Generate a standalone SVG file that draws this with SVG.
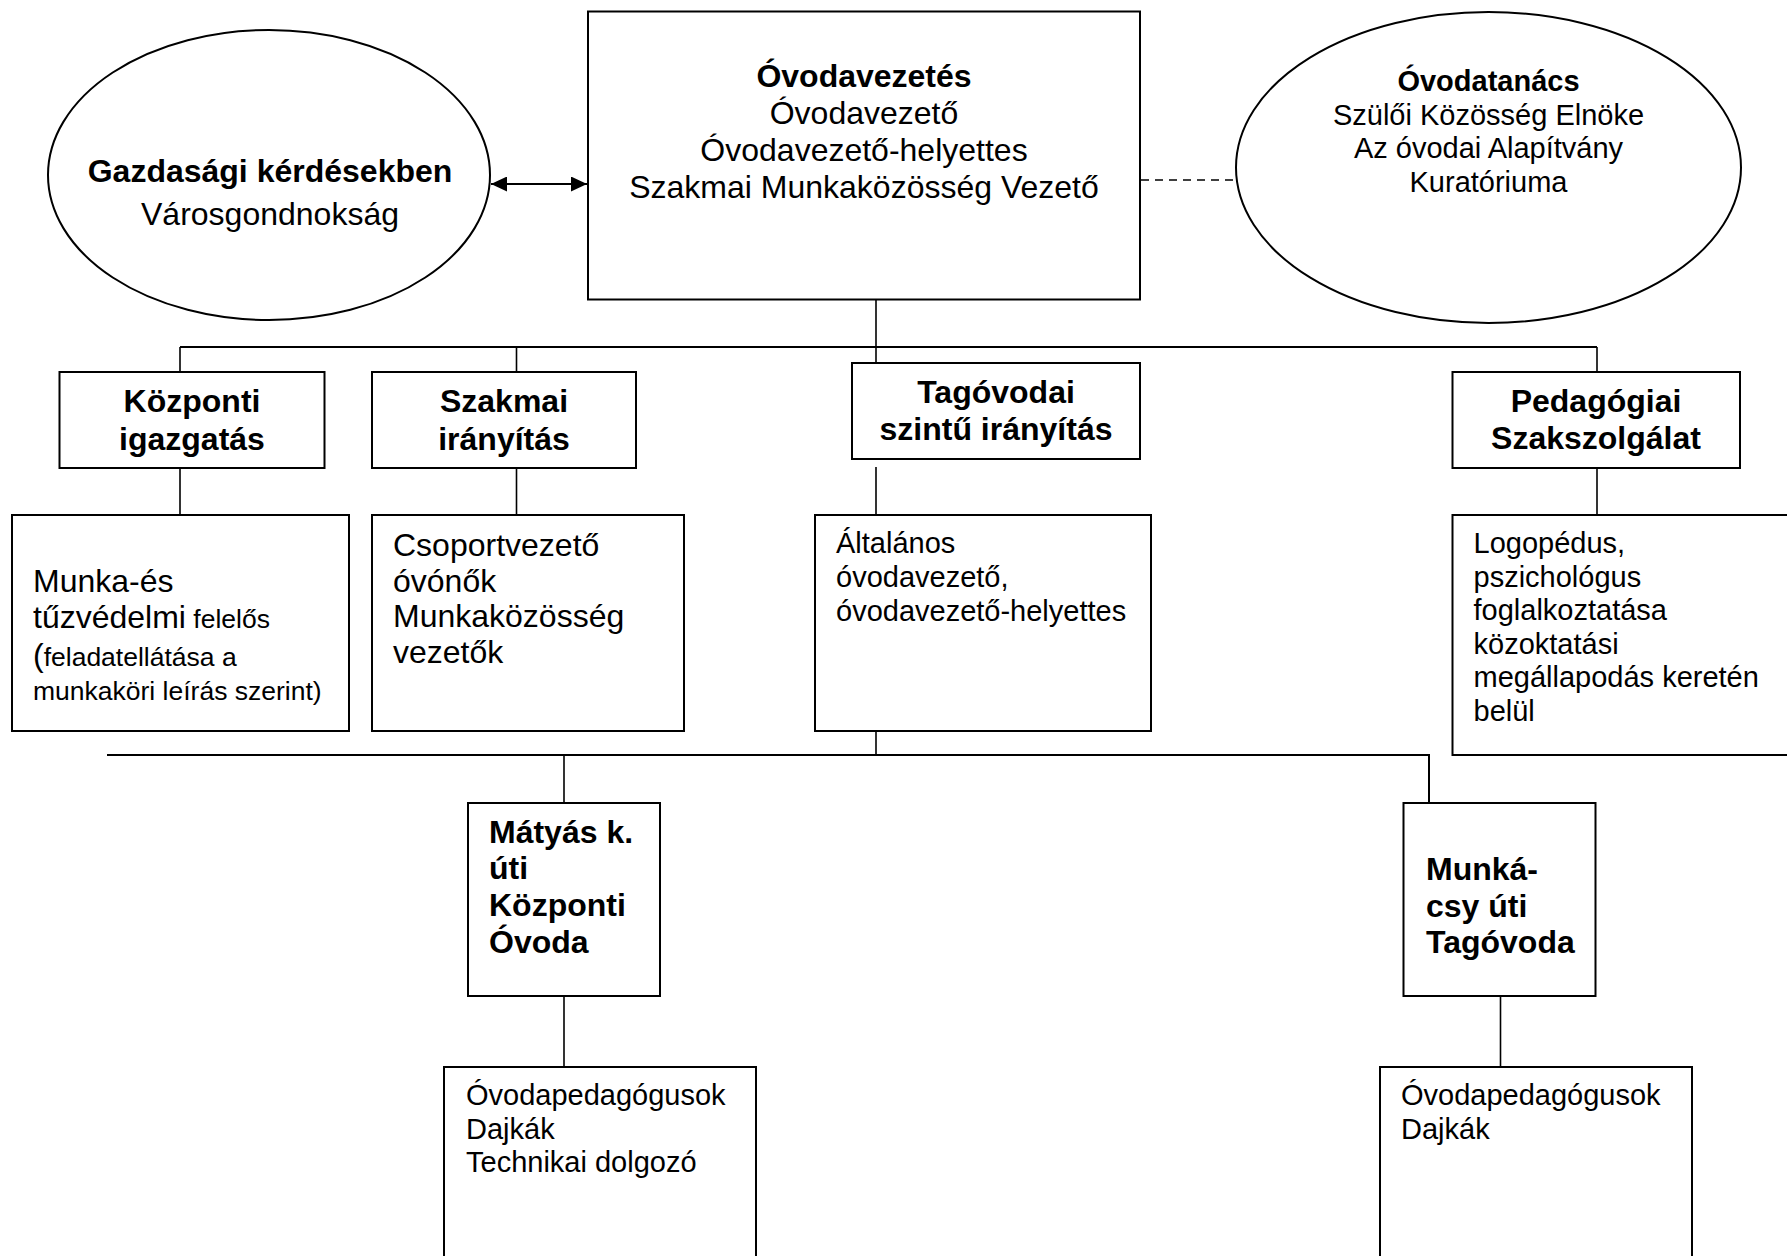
<svg xmlns="http://www.w3.org/2000/svg" width="1787" height="1256" viewBox="0 0 1787 1256">
<defs>
<style>
.box{fill:#fff;stroke:#000;stroke-width:2}
.ell{fill:#fff;stroke:#000;stroke-width:2}
.ln{fill:none;stroke:#000;stroke-width:1.6}
.bus{fill:none;stroke:#000;stroke-width:2}
text{font-family:"Liberation Sans",Arial,sans-serif;fill:#000}
.b{font-weight:bold;font-size:32px}
.r{font-size:32px}
.s{font-size:29px}
.xs{font-size:26.5px}
.c{text-anchor:middle}
</style>
<marker id="ah" viewBox="0 0 16 15" refX="16" refY="7.5" markerWidth="16" markerHeight="15" markerUnits="userSpaceOnUse" orient="auto-start-reverse">
<path d="M0,0 L16,7.5 L0,15 z" fill="#000"/>
</marker>
</defs>
<rect width="1787" height="1256" fill="#fff"/>

<g id="connectors">
<line x1="491" y1="184" x2="587" y2="184" stroke="#000" stroke-width="2" marker-start="url(#ah)" marker-end="url(#ah)"/>
<line x1="1141" y1="180" x2="1236" y2="180" class="ln" stroke-dasharray="8,6"/>
<line x1="876" y1="299" x2="876" y2="372" class="ln"/>
<line x1="180" y1="347" x2="1597" y2="347" class="bus"/>
<line x1="180" y1="347" x2="180" y2="372" class="ln"/>
<line x1="516.5" y1="347" x2="516.5" y2="372" class="ln"/>
<line x1="1597" y1="347" x2="1597" y2="372" class="ln"/>
<line x1="180" y1="468" x2="180" y2="515" class="ln"/>
<line x1="516.5" y1="468" x2="516.5" y2="515" class="ln"/>
<line x1="876" y1="467" x2="876" y2="515" class="ln"/>
<line x1="1597" y1="468" x2="1597" y2="515" class="ln"/>
<line x1="876" y1="731" x2="876" y2="755" class="ln"/>
<polyline points="107,755 1429,755 1429,803" class="bus"/>
<line x1="564" y1="755" x2="564" y2="803" class="ln"/>
<line x1="564" y1="996" x2="564" y2="1067" class="ln"/>
<line x1="1500.5" y1="996" x2="1500.5" y2="1067" class="ln"/>
</g>

<g id="gazdasagi">
<ellipse cx="269" cy="175" rx="221" ry="145" class="ell"/>
<text class="c" x="270"><tspan class="b" x="270" y="182">Gazdasági kérdésekben</tspan><tspan class="r" x="270" y="225">Városgondnokság</tspan></text>
</g>

<g id="ovodavezetes">
<rect x="588" y="11.5" width="552" height="288" class="box"/>
<text class="c"><tspan class="b" x="864" y="87">Óvodavezetés</tspan><tspan class="r" x="864" y="124">Óvodavezető</tspan><tspan class="r" x="864" y="161">Óvodavezető-helyettes</tspan><tspan class="r" x="864" y="198">Szakmai Munkaközösség Vezető</tspan></text>
</g>

<g id="ovodatanacs">
<ellipse cx="1488.5" cy="167.5" rx="252.5" ry="155.5" class="ell"/>
<text class="c"><tspan class="s" font-weight="bold" x="1488.5" y="91">Óvodatanács</tspan><tspan class="s" x="1488.5" y="124.5">Szülői Közösség Elnöke</tspan><tspan class="s" x="1488.5" y="158">Az óvodai Alapítvány</tspan><tspan class="s" x="1488.5" y="191.5">Kuratóriuma</tspan></text>
</g>

<g id="kozponti-igazgatas">
<rect x="59.5" y="372" width="265" height="96" class="box"/>
<text class="c b"><tspan x="192" y="412">Központi</tspan><tspan x="192" y="450">igazgatás</tspan></text>
</g>

<g id="szakmai-iranyitas">
<rect x="372" y="372" width="264" height="96" class="box"/>
<text class="c b"><tspan x="504" y="412">Szakmai</tspan><tspan x="504" y="450">irányítás</tspan></text>
</g>

<g id="tagovodai">
<rect x="852" y="363" width="288" height="96" class="box"/>
<text class="c b"><tspan x="996" y="403">Tagóvodai</tspan><tspan x="996" y="440">szintű irányítás</tspan></text>
</g>

<g id="pedagogiai">
<rect x="1452.5" y="372" width="287.5" height="96" class="box"/>
<text class="c b"><tspan x="1596" y="412">Pedagógiai</tspan><tspan x="1596" y="449">Szakszolgálat</tspan></text>
</g>

<g id="munka-tuzvedelmi">
<rect x="12" y="515" width="337" height="216" class="box"/>
<text><tspan class="r" x="33" y="592">Munka-és</tspan><tspan class="r" x="33" y="628">tűzvédelmi</tspan><tspan class="xs"> felelős</tspan><tspan class="r" x="33" y="666">(</tspan><tspan class="xs">feladatellátása a</tspan><tspan class="xs" x="33" y="700">munkaköri leírás szerint)</tspan></text>
</g>

<g id="csoportvezeto">
<rect x="372" y="515" width="312" height="216" class="box"/>
<text class="r"><tspan x="393" y="556">Csoportvezető</tspan><tspan x="393" y="592">óvónők</tspan><tspan x="393" y="627">Munkaközösség</tspan><tspan x="393" y="663">vezetők</tspan></text>
</g>

<g id="altalanos">
<rect x="815" y="515" width="336" height="216" class="box"/>
<text class="s"><tspan x="836" y="553">Általános</tspan><tspan x="836" y="587">óvodavezető,</tspan><tspan x="836" y="620.5">óvodavezető-helyettes</tspan></text>
</g>

<g id="logopedus">
<rect x="1452.5" y="515" width="400" height="240" class="box"/>
<text class="s"><tspan x="1473.5" y="553">Logopédus,</tspan><tspan x="1473.5" y="586.5">pszichológus</tspan><tspan x="1473.5" y="620">foglalkoztatása</tspan><tspan x="1473.5" y="653.5">közoktatási</tspan><tspan x="1473.5" y="687">megállapodás keretén</tspan><tspan x="1473.5" y="720.5">belül</tspan></text>
</g>

<g id="matyas">
<rect x="468" y="803" width="192" height="193" class="box"/>
<text class="b"><tspan x="489" y="843">Mátyás k.</tspan><tspan x="489" y="879">úti</tspan><tspan x="489" y="916">Központi</tspan><tspan x="489" y="953">Óvoda</tspan></text>
</g>

<g id="munkacsy">
<rect x="1403.5" y="803" width="192" height="193" class="box"/>
<text class="b"><tspan x="1426" y="880">Munká-</tspan><tspan x="1426" y="917">csy úti</tspan><tspan x="1426" y="953">Tagóvoda</tspan></text>
</g>

<g id="matyas-staff">
<rect x="444" y="1067" width="312" height="250" class="box"/>
<text class="s"><tspan x="466" y="1105">Óvodapedagógusok</tspan><tspan x="466" y="1139">Dajkák</tspan><tspan x="466" y="1172">Technikai dolgozó</tspan></text>
</g>

<g id="munkacsy-staff">
<rect x="1380" y="1067" width="312" height="250" class="box"/>
<text class="s"><tspan x="1401" y="1105">Óvodapedagógusok</tspan><tspan x="1401" y="1139">Dajkák</tspan></text>
</g>
</svg>
